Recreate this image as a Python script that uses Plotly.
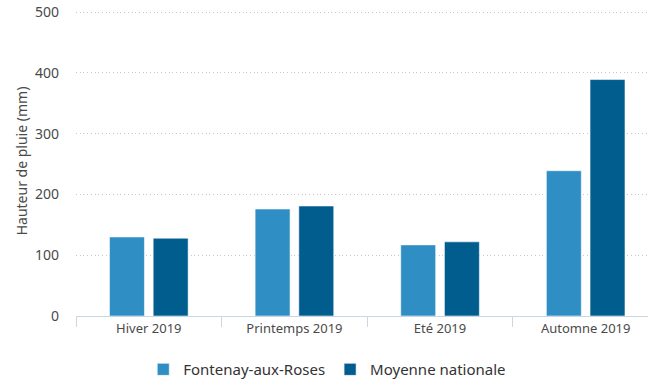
import plotly.graph_objects as go

# Seasonal rainfall, 2019 (mm)
saisons = ["Hiver 2019", "Printemps 2019", "Eté 2019", "Automne 2019"]
fontenay = [130, 176, 117, 239]
moyenne = [128, 181, 122, 389]
y_ticks = [0, 100, 200, 300, 400, 500]

FONT = "Noto Sans"
TEXT = "#4a4a4a"
AXIS = "#c9d6e4"

fig = go.Figure()
fig.add_bar(
    name="Fontenay-aux-Roses", x=saisons, y=fontenay,
    marker=dict(color="#2f8ec4", line=dict(color="rgba(255,255,255,0.55)", width=1)),
)
fig.add_bar(
    name="Moyenne nationale", x=saisons, y=moyenne,
    marker=dict(color="#025d8f", line=dict(color="rgba(255,255,255,0.55)", width=1)),
)

fig.update_layout(
    width=648, height=383,
    margin=dict(l=76, r=0, t=6, b=67),
    paper_bgcolor="white", plot_bgcolor="white",
    barmode="group", bargap=0.40, bargroupgap=0.20,
    font=dict(family=FONT, size=13, color=TEXT),
    showlegend=True,
    legend=dict(
        orientation="h", xref="container", yref="container",
        x=0.505, xanchor="center", y=0.035, yanchor="middle",
        font=dict(size=15, color="#333333"),
        itemwidth=30, tracegroupgap=0,
    ),
    xaxis=dict(
        range=[-0.5, 3.428],
        showline=True, linecolor=AXIS, linewidth=1,
        ticks="outside", tickson="boundaries", ticklen=10, tickcolor=AXIS,
        showgrid=False, tickfont=dict(size=13, color=TEXT),
    ),
    yaxis=dict(
        range=[0, 510], tickvals=y_ticks,
        showgrid=True, gridcolor="#c8c8c8", griddash="1px,2.7px", gridwidth=1,
        zeroline=False, showline=False, ticks="",
        tickfont=dict(size=14, color=TEXT), ticklabelstandoff=16,
        title=dict(text="Hauteur de pluie (mm)", font=dict(size=14, color=TEXT), standoff=4),
    ),
)

fig.write_html("out.html")
